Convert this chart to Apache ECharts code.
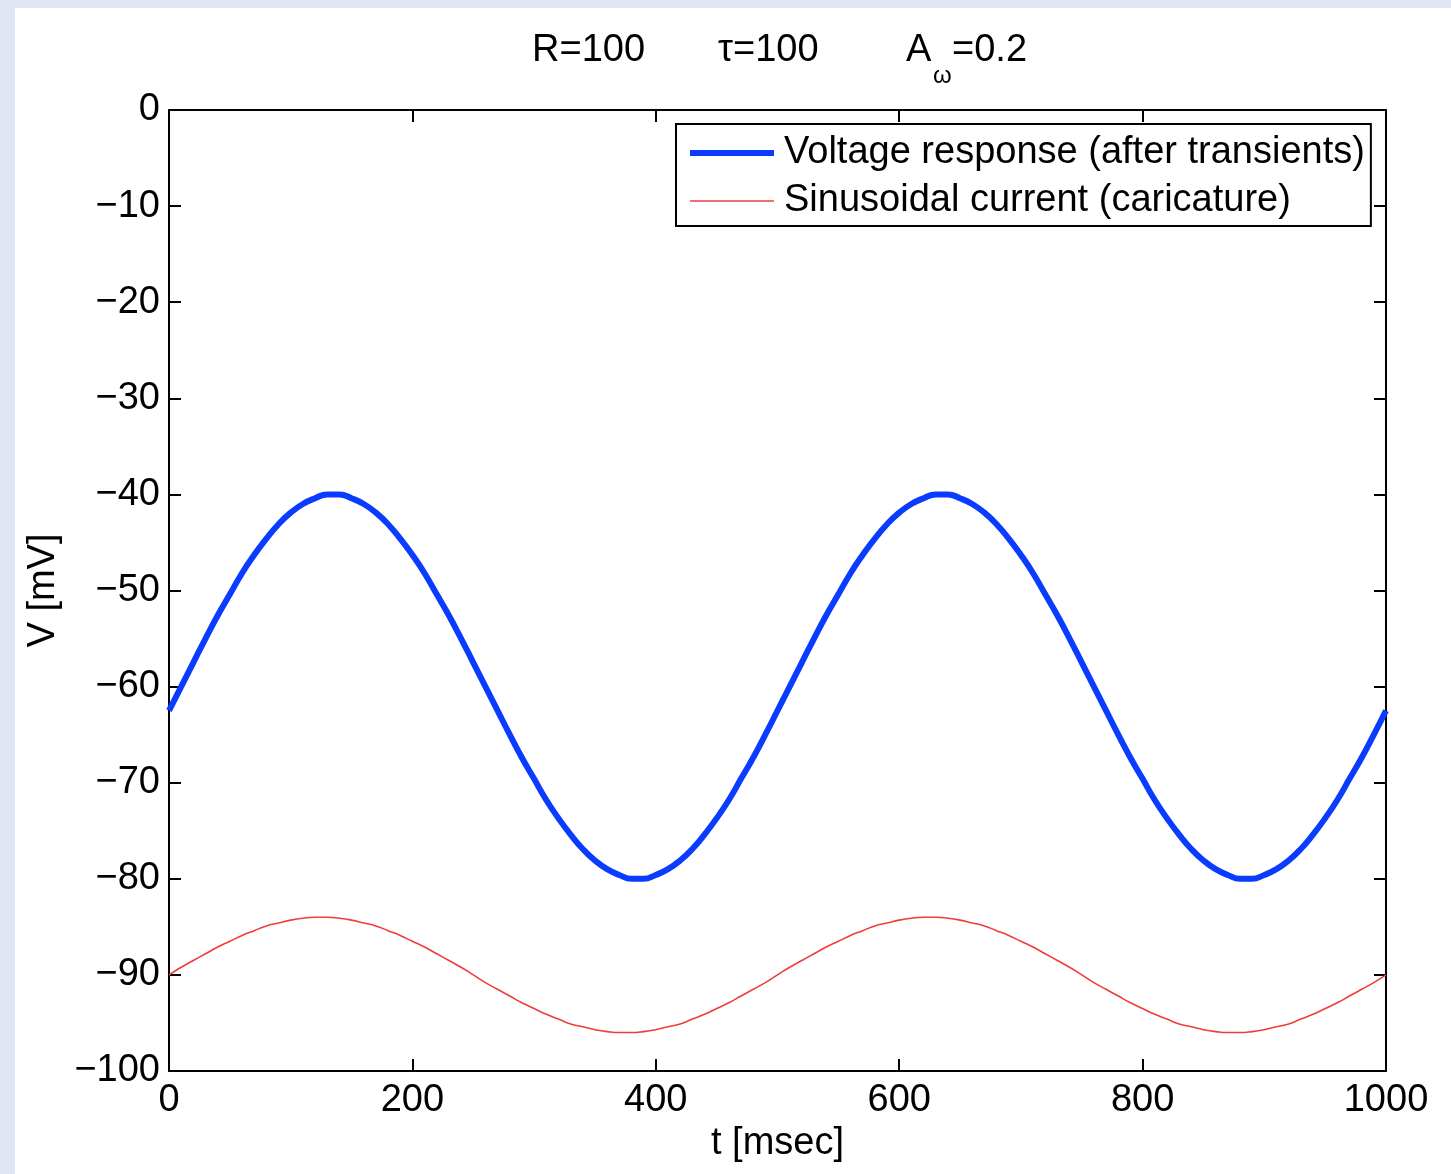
<!DOCTYPE html>
<html>
<head>
<meta charset="utf-8">
<script src="https://cdn.jsdelivr.net/npm/echarts@6/dist/echarts.min.js"></script>
<style>
  html, body { margin: 0; padding: 0; width: 1451px; height: 1174px; overflow: hidden; }
  body { background: #dfe6f2; }
  #chart { position: absolute; left: 15px; top: 8px; width: 1436px; height: 1166px; background: #fff; }
</style>
</head>
<body>
<div id="chart"></div>
<script>
// time points [msec]
const tValues = [
  0, 10, 20, 30, 40, 50, 60, 70, 80, 90, 100, 110, 120, 130, 140, 150, 160, 170, 180, 190,
  200, 210, 220, 230, 240, 250, 260, 270, 280, 290, 300, 310, 320, 330, 340, 350, 360, 370, 380, 390,
  400, 410, 420, 430, 440, 450, 460, 470, 480, 490, 500, 510, 520, 530, 540, 550, 560, 570, 580, 590,
  600, 610, 620, 630, 640, 650, 660, 670, 680, 690, 700, 710, 720, 730, 740, 750, 760, 770, 780, 790,
  800, 810, 820, 830, 840, 850, 860, 870, 880, 890, 900, 910, 920, 930, 940, 950, 960, 970, 980, 990, 1000
];
// voltage response (after transients) [mV]
const voltage = [
  -62.5, -60.0, -57.5, -55.0, -52.6, -50.4, -48.2, -46.3, -44.6, -43.1, -41.9, -41.0, -40.4, -40.0, -40.0, -40.4, -41.0, -41.9, -43.1, -44.6,
  -46.3, -48.2, -50.4, -52.6, -55.0, -57.5, -60.0, -62.5, -65.0, -67.4, -69.6, -71.8, -73.7, -75.4, -76.9, -78.1, -79.0, -79.6, -80.0, -80.0,
  -79.6, -79.0, -78.1, -76.9, -75.4, -73.7, -71.8, -69.6, -67.4, -65.0, -62.5, -60.0, -57.5, -55.0, -52.6, -50.4, -48.2, -46.3, -44.6, -43.1,
  -41.9, -41.0, -40.4, -40.0, -40.0, -40.4, -41.0, -41.9, -43.1, -44.6, -46.3, -48.2, -50.4, -52.6, -55.0, -57.5, -60.0, -62.5, -65.0, -67.4,
  -69.6, -71.8, -73.7, -75.4, -76.9, -78.1, -79.0, -79.6, -80.0, -80.0, -79.6, -79.0, -78.1, -76.9, -75.4, -73.7, -71.8, -69.6, -67.4, -65.0, -62.5
];
// sinusoidal current (caricature)
const current = [
  -90.0, -89.2, -88.5, -87.8, -87.1, -86.5, -85.9, -85.4, -84.9, -84.6, -84.3, -84.1, -84.0, -84.0, -84.1, -84.3, -84.6, -84.9, -85.4, -85.9,
  -86.5, -87.1, -87.8, -88.5, -89.2, -90.0, -90.8, -91.5, -92.2, -92.9, -93.5, -94.1, -94.6, -95.1, -95.4, -95.7, -95.9, -96.0, -96.0, -95.9,
  -95.7, -95.4, -95.1, -94.6, -94.1, -93.5, -92.9, -92.2, -91.5, -90.8, -90.0, -89.2, -88.5, -87.8, -87.1, -86.5, -85.9, -85.4, -84.9, -84.6,
  -84.3, -84.1, -84.0, -84.0, -84.1, -84.3, -84.6, -84.9, -85.4, -85.9, -86.5, -87.1, -87.8, -88.5, -89.2, -90.0, -90.8, -91.5, -92.2, -92.9,
  -93.5, -94.1, -94.6, -95.1, -95.4, -95.7, -95.9, -96.0, -96.0, -95.9, -95.7, -95.4, -95.1, -94.6, -94.1, -93.5, -92.9, -92.2, -91.5, -90.8, -90.0
];
const seriesNames = ['Voltage response (after transients)', 'Sinusoidal current (caricature)'];
const xLabel = 't [msec]';
const yLabel = 'V [mV]';

const font = '"Liberation Sans", Arial, Helvetica, sans-serif';
const fs = 38;
const blue = '#0a3cff';
const red = '#f03c3c';

const chart = echarts.init(document.getElementById('chart'));

function pair(xs, ys) {
  return xs.map((x, i) => [x, ys[i]]);
}

// matlab style box: ticks pointing in on all four sides
const frameAxis = {
  axisLine: { show: true, onZero: false, lineStyle: { color: '#000', width: 2 } },
  axisTick: { show: true, inside: true, length: 12, lineStyle: { color: '#000', width: 2 } },
  splitLine: { show: false }
};

const option = {
  animation: false,
  textStyle: { fontFamily: font },
  grid: { left: 154, right: 65, top: 102, bottom: 103 },
  graphic: [
    { type: 'text', left: 517, top: 24, style: { text: 'R=100', font: fs + 'px ' + font, fill: '#000' } },
    { type: 'text', left: 703, top: 24, style: { text: '\u03c4=100', font: fs + 'px ' + font, fill: '#000' } },
    { type: 'text', left: 891, top: 24, style: { text: 'A', font: fs + 'px ' + font, fill: '#000' } },
    { type: 'text', left: 918, top: 56, style: { text: '\u03c9', font: '24px ' + font, fill: '#000' } },
    { type: 'text', left: 937, top: 24, style: { text: '=0.2', font: fs + 'px ' + font, fill: '#000' } }
  ],
  legend: {
    orient: 'vertical',
    left: 661,
    top: 116,
    padding: [10, 6, 6, 14],
    itemGap: 10,
    itemWidth: 84,
    itemHeight: 20,
    borderColor: '#000',
    borderWidth: 2,
    backgroundColor: '#fff',
    textStyle: { fontSize: fs, fontFamily: font, color: '#000', padding: [0, 0, 0, 5] },
    data: [
      { name: seriesNames[0], icon: 'path://M0,0L84,0L84,6L0,6Z' },
      { name: seriesNames[1], icon: 'path://M0,0L84,0L84,1.6L0,1.6Z' }
    ]
  },
  xAxis: [
    Object.assign({
      type: 'value', min: 0, max: 1000, interval: 200,
      name: xLabel, nameLocation: 'middle', nameGap: 53,
      nameTextStyle: { fontSize: fs, color: '#000', fontFamily: font },
      axisLabel: { fontSize: fs, color: '#000', margin: 11, fontFamily: font, formatter: v => String(v) }
    }, frameAxis),
    Object.assign({
      type: 'value', min: 0, max: 1000, interval: 200, position: 'top',
      axisLabel: { show: false }
    }, frameAxis)
  ],
  yAxis: [
    Object.assign({
      type: 'value', min: -100, max: 0, interval: 10,
      name: yLabel, nameLocation: 'middle', nameGap: 106,
      nameTextStyle: { fontSize: fs, color: '#000', fontFamily: font },
      axisLabel: {
        fontSize: fs, color: '#000', margin: 9, fontFamily: font,
        formatter: v => String(v).replace('-', '\u2212')
      }
    }, frameAxis),
    Object.assign({
      type: 'value', min: -100, max: 0, interval: 10, position: 'right',
      axisLabel: { show: false }
    }, frameAxis)
  ],
  series: [
    {
      name: seriesNames[0], type: 'line', smooth: true, showSymbol: false, symbol: 'none',
      data: pair(tValues, voltage),
      lineStyle: { color: blue, width: 6 }, itemStyle: { color: blue }
    },
    {
      name: seriesNames[1], type: 'line', smooth: true, showSymbol: false, symbol: 'none',
      data: pair(tValues, current),
      lineStyle: { color: red, width: 1.6 }, itemStyle: { color: red }
    }
  ]
};

chart.setOption(option);
</script>
</body>
</html>
